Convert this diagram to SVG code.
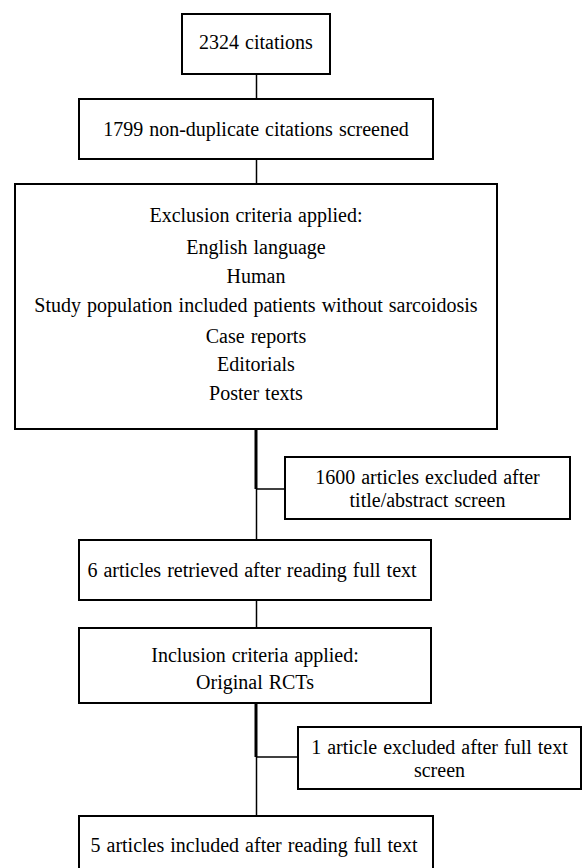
<svg xmlns="http://www.w3.org/2000/svg" width="582" height="868" viewBox="0 0 582 868">
<style>
.box{fill:#fff;stroke:#000;stroke-width:2}
text{font-family:'Liberation Serif','Times New Roman',serif;font-size:20px;word-spacing:1px;fill:#000;text-anchor:middle}
.thin{stroke:#000;stroke-width:1.5;fill:none}
.thick{stroke:#000;stroke-width:3;fill:none}
</style>
<rect width="582" height="868" fill="#fff"/>
<g id="connectors">
<line class="thin" x1="256.5" y1="74" x2="256.5" y2="99"/>
<line class="thin" x1="256.5" y1="159" x2="256.5" y2="184"/>
<line class="thick" x1="256" y1="429" x2="256" y2="489"/>
<line class="thin" x1="256" y1="489" x2="285" y2="489"/>
<line class="thin" x1="256.5" y1="489" x2="256.5" y2="540"/>
<line class="thin" x1="256.5" y1="600" x2="256.5" y2="628"/>
<line class="thick" x1="256" y1="703" x2="256" y2="757"/>
<line class="thin" x1="256" y1="757" x2="298" y2="757"/>
<line class="thin" x1="256.5" y1="757" x2="256.5" y2="816"/>
</g>
<g id="n1"><rect class="box" x="182" y="14" width="148" height="60"/><text x="256" y="49">2324 citations</text></g>
<g id="n2"><rect class="box" x="79" y="99" width="354" height="60"/><text x="256" y="136">1799 non-duplicate citations screened</text></g>
<g id="n3"><rect class="box" x="15" y="184" width="482" height="245"/>
<text x="256" y="222">Exclusion criteria applied:</text>
<text x="256" y="254">English language</text>
<text x="256" y="283">Human</text>
<text x="256" y="312">Study population included patients without sarcoidosis</text>
<text x="256" y="343">Case reports</text>
<text x="256" y="371">Editorials</text>
<text x="256" y="400">Poster texts</text>
</g>
<g id="n4"><rect class="box" x="285" y="457" width="285" height="62"/><text x="427.5" y="484">1600 articles excluded after</text><text x="427.5" y="507">title/abstract screen</text></g>
<g id="n5"><rect class="box" x="79" y="540" width="352" height="60"/><text x="252" y="577">6 articles retrieved after reading full text</text></g>
<g id="n6"><rect class="box" x="79" y="628" width="352" height="75"/><text x="255" y="662">Inclusion criteria applied:</text><text x="255" y="689">Original RCTs</text></g>
<g id="n7"><rect class="box" x="298" y="727" width="283" height="62"/><text x="439.5" y="754">1 article excluded after full text</text><text x="439.5" y="777">screen</text></g>
<g id="n8"><rect class="box" x="79" y="816" width="354" height="60"/><text x="254" y="852">5 articles included after reading full text</text></g>
</svg>
